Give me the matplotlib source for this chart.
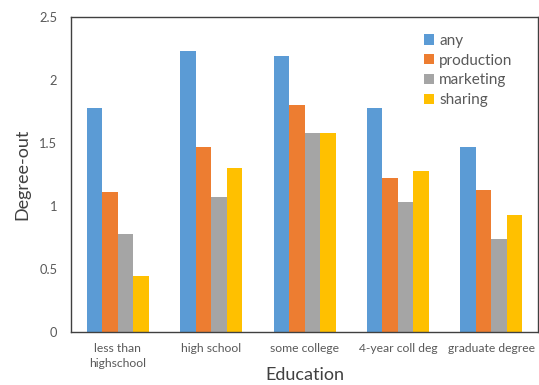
import numpy as np
import matplotlib.pyplot as plt

categories = ["less than\nhighschool", "high school", "some college", "4-year coll deg", "graduate degree"]
series = ["any", "production", "marketing", "sharing"]
any_vals = [1.78, 2.23, 2.19, 1.78, 1.47]
production = [1.11, 1.47, 1.80, 1.22, 1.13]
marketing = [0.78, 1.07, 1.58, 1.03, 0.74]
sharing = [0.44, 1.30, 1.58, 1.28, 0.93]
colors = ["#5B9BD5", "#ED7D31", "#A5A5A5", "#FFC000"]

plt.rcParams["font.family"] = ["Lato", "DejaVu Sans"]

fig = plt.figure(figsize=(5.39, 3.85), dpi=100)
ax = fig.add_axes([0.132, 0.138, 0.866, 0.818])

x = np.arange(len(categories))
w = 0.166
for i, (name, vals) in enumerate(zip(series, [any_vals, production, marketing, sharing])):
    ax.bar(x + (i - 1.5) * w, vals, w, color=colors[i], label=name)

ax.set_ylim(0, 2.5)
ax.set_xlim(-0.5, len(categories) - 0.5)
ax.set_yticks([0, 0.5, 1, 1.5, 2, 2.5])
ax.set_yticklabels(["0", "0.5", "1", "1.5", "2", "2.5"])
ax.set_xticks(x)
ax.set_xticklabels(categories, fontsize=8.7, color="#595959", linespacing=1.45)
ax.tick_params(axis="y", length=0, labelsize=9.3, labelcolor="#595959", pad=10)
ax.tick_params(axis="x", length=0, pad=8)
for s in ax.spines.values():
    s.set_color("#404040")
    s.set_linewidth(1.0)

ax.set_ylabel("Degree-out", fontsize=13, color="#404040")
ax.yaxis.set_label_coords(-0.088, 0.5)
ax.set_xlabel("Education", fontsize=13, color="#404040")
ax.xaxis.set_label_coords(0.5, -0.11)

ax.legend(loc="upper right", bbox_to_anchor=(0.975, 0.99), frameon=False,
          fontsize=11, handlelength=0.65, handleheight=0.65, handletextpad=0.35,
          labelspacing=0.38, labelcolor="#595959")

fig.savefig("out.png", dpi=100)
